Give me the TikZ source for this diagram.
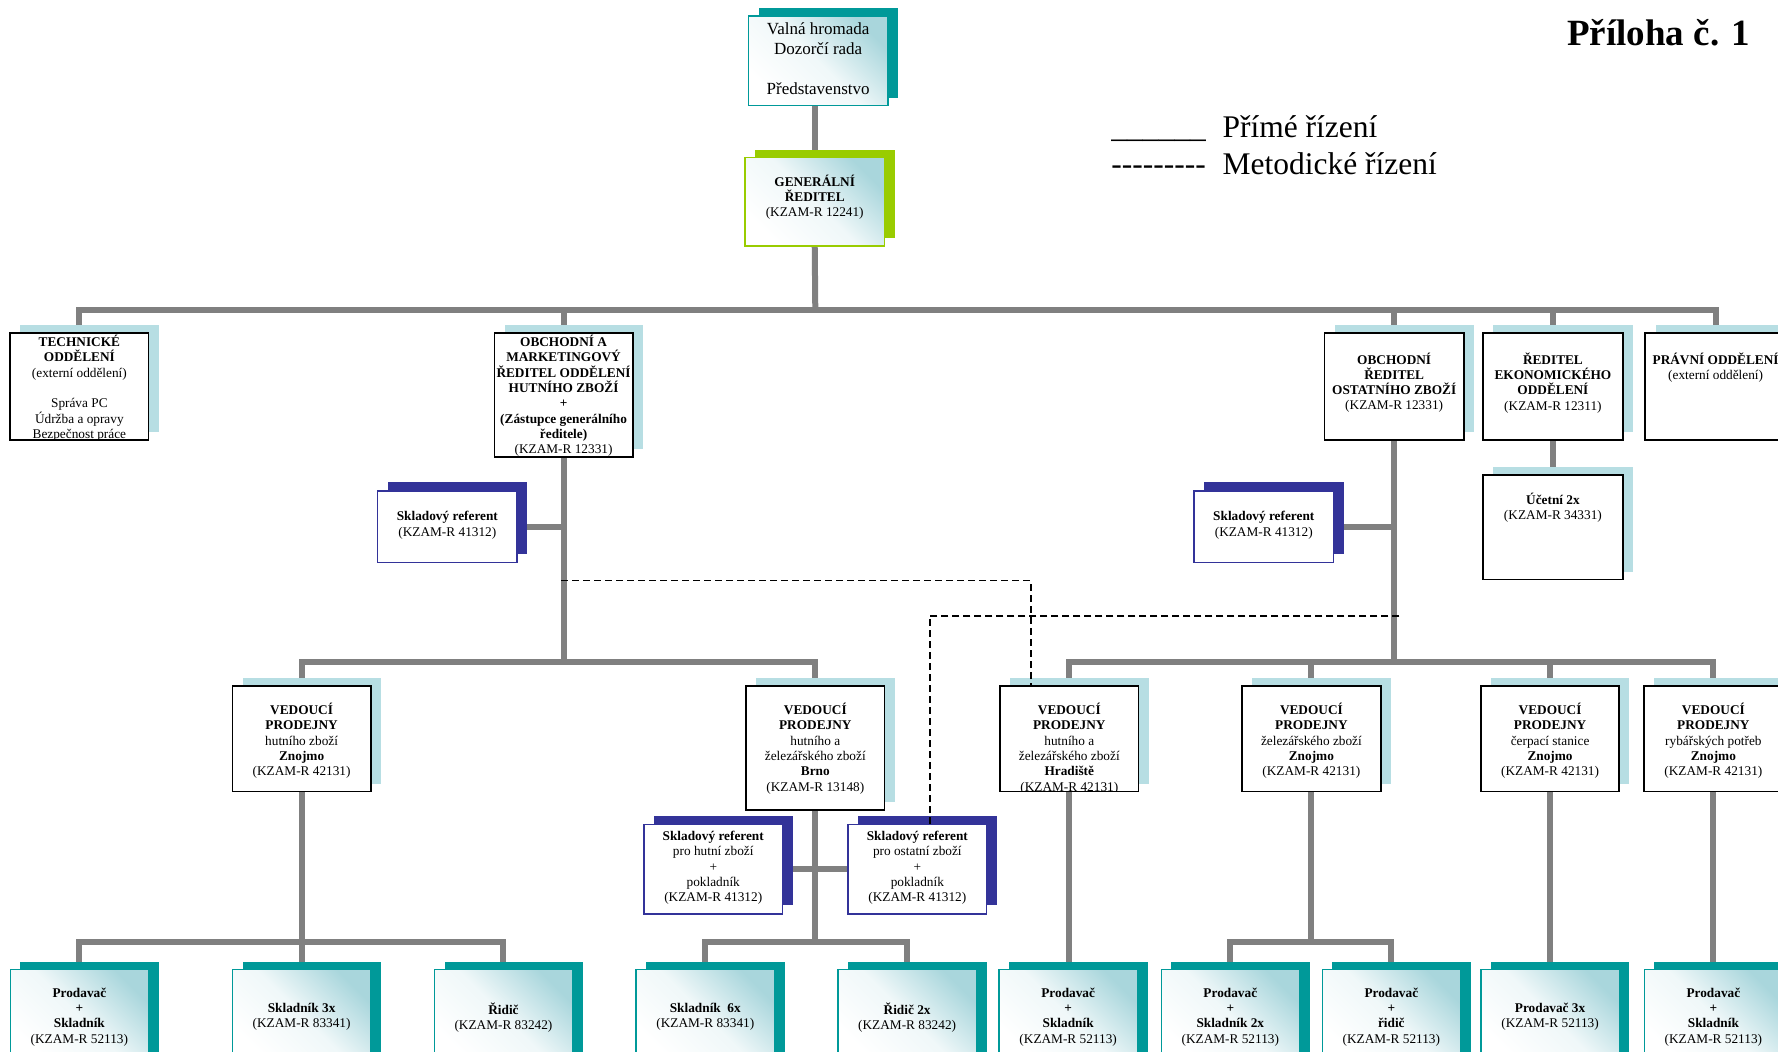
\documentclass[tikz,border=0pt]{standalone}
\usepackage{fontspec}
\setmainfont{Liberation Serif}
\usetikzlibrary{fit,calc}
\pgfdeclarelayer{bg}
\pgfsetlayers{bg,main}
\definecolor{conngray}{HTML}{808080}
\definecolor{tealc}{HTML}{009999}
\definecolor{greenc}{HTML}{99CC00}
\definecolor{lbc}{HTML}{B7DEE3}
\definecolor{dbc}{HTML}{333399}
\definecolor{gradc}{HTML}{A9D6DC}
\tikzset{
  conn/.style={draw=conngray, line width=6pt, line join=miter},
  metod/.style={draw=black, line width=1.6pt, dash pattern=on 7pt off 4pt},
  txt/.style={align=center, inner sep=0pt, font=\fontsize{13.3}{15.3}\selectfont, execute at begin node=\strut},
  gradbase/.style={top color=gradc, bottom color=white, middle color=gradc!18!white, shading angle=-45},
  gradteal/.style={draw=tealc, line width=1.3pt, gradbase},
  gradgreen/.style={draw=greenc, line width=1.3pt, gradbase},
  blackbox/.style={draw=black, line width=1.8pt, fill=white},
  bluebox/.style={draw=dbc, line width=1.4pt, fill=white},
  shteal/.style={fill=tealc, shift={(9,-7)}},
  shgreen/.style={fill=greenc, shift={(9,-7)}},
  shlb/.style={fill=lbc, shift={(9,-7)}},
  shdb/.style={fill=dbc, shift={(9,-7.5)}},
  legend/.style={anchor=base west, inner sep=0pt, font=\fontsize{31.5}{37}\selectfont}
}
% #1 name, #2 shadow style, #3 box style, #4 x1, #5 y1, #6 x2, #7 y2, #8 text offset, #9 text
\newcommand{\orgbox}[9]{%
  \fill[#2] (#4,#5) rectangle (#6,#7);
  \node[#3, inner sep=0pt, fit={(#4,#5) (#6,#7)}] (#1) {};
  \begin{scope}
    \clip ($(#4,#5)+(1,1)$) rectangle ($(#6,#7)+(-1,-1)$);
    \node[txt, anchor=north] (#1t) at ([yshift=-#8]#1.north) {#9};
  \end{scope}}
\begin{document}
\begin{tikzpicture}[x=1.134pt, y=-1.134pt]
\useasboundingbox (0,0) rectangle (1568,927);
\clip (0,0) rectangle (1568,927);

% top boxes
\fill[shteal] (660,14) rectangle (783,93);
\node[gradteal, inner sep=0pt, fit={(660,14) (783,93)}] (valna) {};
\node[txt, font=\fontsize{17}{20}\selectfont, anchor=north] (valnat) at ([yshift=-7.5pt]valna.north) {Valná hromada\\Dozorčí rada\\\mbox{}\\Představenstvo};

\orgbox{gen}{shgreen}{gradgreen}{657}{139}{780}{217}{17.6pt}{\textbf{GENERÁLNÍ}\\\textbf{ŘEDITEL}\\(KZAM-R 12241)}

% first level
\orgbox{tech}{shlb}{blackbox}{9}{294}{131}{388}{2.5pt}{\textbf{TECHNICKÉ}\\\textbf{ODDĚLENÍ}\\(externí oddělení)\\\mbox{}\\Správa PC\\Údržba a opravy\\Bezpečnost práce}
\orgbox{obch}{shlb}{blackbox}{436}{294}{558}{403}{2.5pt}{\textbf{OBCHODNÍ A}\\\textbf{MARKETINGOVÝ}\\\textbf{ŘEDITEL ODDĚLENÍ}\\\textbf{HUTNÍHO ZBOŽÍ}\\\textbf{+}\\\textbf{(Zástupce generálního}\\\textbf{ředitele)}\\(KZAM-R 12331)}
\orgbox{ost}{shlb}{blackbox}{1168}{294}{1291}{388}{20pt}{\textbf{OBCHODNÍ}\\\textbf{ŘEDITEL}\\\textbf{OSTATNÍHO ZBOŽÍ}\\(KZAM-R 12331)}
\orgbox{ekon}{shlb}{blackbox}{1308}{294}{1431}{388}{20pt}{\textbf{ŘEDITEL}\\\textbf{EKONOMICKÉHO}\\\textbf{ODDĚLENÍ}\\(KZAM-R 12311)}
\orgbox{prav}{shlb}{blackbox}{1451}{294}{1575}{388}{20pt}{\textbf{PRÁVNÍ ODDĚLENÍ}\\(externí oddělení)}
\orgbox{uc}{shlb}{blackbox}{1308}{419}{1431}{511}{18.5pt}{\textbf{Účetní 2x}\\(KZAM-R 34331)}
\orgbox{sklL}{shdb}{bluebox}{333}{433}{456}{496}{21pt}{\textbf{Skladový referent}\\(KZAM-R 41312)}
\orgbox{sklR}{shdb}{bluebox}{1053}{433}{1176}{496}{21pt}{\textbf{Skladový referent}\\(KZAM-R 41312)}

% second level
\orgbox{v1}{shlb}{blackbox}{205}{605}{327}{698}{17.8pt}{\textbf{VEDOUCÍ}\\\textbf{PRODEJNY}\\hutního zboží\\\textbf{Znojmo}\\(KZAM-R 42131)}
\orgbox{v2}{shlb}{blackbox}{658}{605}{780}{714}{17.8pt}{\textbf{VEDOUCÍ}\\\textbf{PRODEJNY}\\hutního a\\železářského zboží\\\textbf{Brno}\\(KZAM-R 13148)}
\orgbox{v3}{shlb}{blackbox}{882}{605}{1004}{698}{17.8pt}{\textbf{VEDOUCÍ}\\\textbf{PRODEJNY}\\hutního a\\železářského zboží\\\textbf{Hradiště}\\(KZAM-R 42131)}
\orgbox{v4}{shlb}{blackbox}{1095}{605}{1218}{698}{17.8pt}{\textbf{VEDOUCÍ}\\\textbf{PRODEJNY}\\železářského zboží\\\textbf{Znojmo}\\(KZAM-R 42131)}
\orgbox{v5}{shlb}{blackbox}{1306}{605}{1428}{698}{17.8pt}{\textbf{VEDOUCÍ}\\\textbf{PRODEJNY}\\čerpací stanice\\\textbf{Znojmo}\\(KZAM-R 42131)}
\orgbox{v6}{shlb}{blackbox}{1450}{605}{1572}{698}{17.8pt}{\textbf{VEDOUCÍ}\\\textbf{PRODEJNY}\\rybářských potřeb\\\textbf{Znojmo}\\(KZAM-R 42131)}
\orgbox{sklH}{shdb}{bluebox}{568}{727}{690}{806}{7.3pt}{\textbf{Skladový referent}\\pro hutní zboží\\+\\pokladník\\(KZAM-R 41312)}
\orgbox{sklO}{shdb}{bluebox}{748}{727}{870}{806}{7.3pt}{\textbf{Skladový referent}\\pro ostatní zboží\\+\\pokladník\\(KZAM-R 41312)}

% bottom level
\orgbox{p1}{shteal}{gradteal}{9}{855}{131}{935}{18.8pt}{\textbf{Prodavač}\\\textbf{+}\\\textbf{Skladník}\\(KZAM-R 52113)}
\orgbox{p2}{shteal}{gradteal}{205}{855}{327}{935}{33.8pt}{\textbf{Skladník 3x}\\(KZAM-R 83341)}
\orgbox{p3}{shteal}{gradteal}{383}{855}{505}{935}{33.8pt}{\textbf{Řidič}\\(KZAM-R 83242)}
\orgbox{p4}{shteal}{gradteal}{561}{855}{683}{935}{33.8pt}{\textbf{Skladník\ \ 6x}\\(KZAM-R 83341)}
\orgbox{p5}{shteal}{gradteal}{739}{855}{861}{935}{33.8pt}{\textbf{Řidič 2x}\\(KZAM-R 83242)}
\orgbox{p6}{shteal}{gradteal}{881}{855}{1003}{935}{18.8pt}{\textbf{Prodavač}\\\textbf{+}\\\textbf{Skladník}\\(KZAM-R 52113)}
\orgbox{p7}{shteal}{gradteal}{1024}{855}{1146}{935}{18.8pt}{\textbf{Prodavač}\\\textbf{+}\\\textbf{Skladník 2x}\\(KZAM-R 52113)}
\orgbox{p8}{shteal}{gradteal}{1166}{855}{1288}{935}{18.8pt}{\textbf{Prodavač}\\\textbf{+}\\\textbf{řidič}\\(KZAM-R 52113)}
\orgbox{p9}{shteal}{gradteal}{1306}{855}{1428}{935}{33.8pt}{\textbf{Prodavač 3x}\\(KZAM-R 52113)}
\orgbox{p10}{shteal}{gradteal}{1450}{855}{1572}{935}{18.8pt}{\textbf{Prodavač}\\\textbf{+}\\\textbf{Skladník}\\(KZAM-R 52113)}

% legend and title
\node[legend] (legl1) at (980,121) {\_\_\_\_\_\_};
\node[legend] (legl2) at (980,154) {-{}-{}-{}-{}-{}-{}-{}-{}-};
\node[legend] (leg1) at (1078,121) {Přímé řízení};
\node[legend] (leg2) at (1078,154) {Metodické řízení};
\node[anchor=base west, inner sep=0pt, font=\fontsize{37}{44}\selectfont\bfseries] (title) at (1382,40) {Příloha č. 1};

% connectors
\begin{pgfonlayer}{bg}
\coordinate (b1) at (719,273);
\coordinate (b2L) at (497,584);
\coordinate (lev3) at (0,831);
\draw[conn] (gen.north) -- (gen.north |- valna.south);
\draw[conn] (gen.south) -- (b1);
\draw[conn] (tech.north) |- (b1) -| (prav.north);
\draw[conn] (obch.north) -- (obch.north |- b1);
\draw[conn] (ost.north) -- (ost.north |- b1);
\draw[conn] (ekon.north) -- (ekon.north |- b1);
\draw[conn] (ekon.south) -- (uc.north);
\draw[conn] (obch.south) -- (b2L);
\draw[conn] (sklL.east) -- (sklL.east -| obch.south);
\draw[conn] (v1.north) |- (b2L) -| (v2.north);
\coordinate (b2R) at (ost.south |- b2L);
\draw[conn] (ost.south) -- (b2R);
\draw[conn] (sklR.east) -- (sklR.east -| ost.south);
\draw[conn] (v3.north) |- (b2R) -| (v6.north);
\draw[conn] (v4.north) -- (v4.north |- b2R);
\draw[conn] (v5.north) -- (v5.north |- b2R);
\draw[conn] (v1.south) -- (v1.south |- lev3);
\draw[conn] (p1.north) |- (v1.south |- lev3) -| (p3.north);
\draw[conn] (p2.north) -- (p2.north |- lev3);
\draw[conn] (v2.south) -- (v2.south |- lev3);
\draw[conn] (p4.north) |- (v2.south |- lev3) -| (p5.north);
\draw[conn] (sklH.east) -- (sklO.west);
\draw[conn] (v3.south) -- (v3.south |- p6.north);
\draw[conn] (v4.south) -- (v4.south |- lev3);
\draw[conn] (p7.north) |- (v4.south |- lev3) -| (p8.north);
\draw[conn] (v5.south) -- (v5.south |- p9.north);
\draw[conn] (v6.south) -- (v6.south |- p10.north);
\end{pgfonlayer}

% methodical (dashed) lines
\coordinate (m1) at (495,512);
\coordinate (m1b) at (909,512);
\draw[metod] (m1) -- (m1b) -- (m1b |- v3.north);
\coordinate (m2) at (1234,543);
\coordinate (m2b) at (820,543);
\draw[metod] (m2) -- (m2b) -- (m2b |- sklO.north);
\end{tikzpicture}
\end{document}
